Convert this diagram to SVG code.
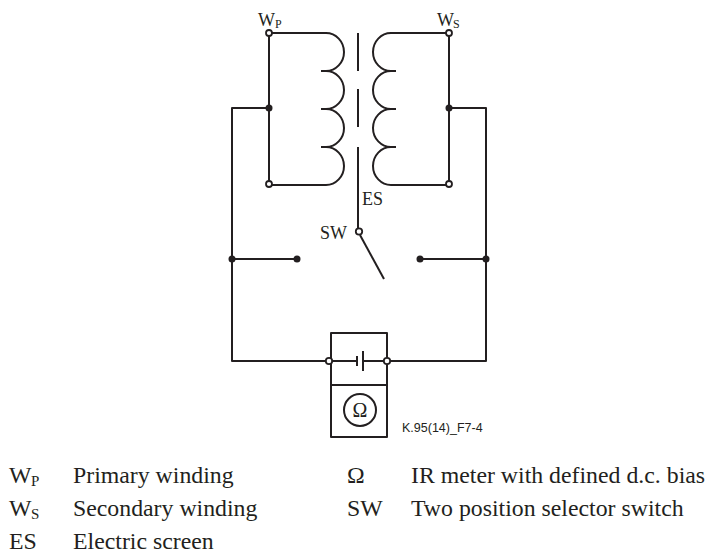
<svg xmlns="http://www.w3.org/2000/svg" width="710" height="551" viewBox="0 0 710 551">
<style>
.w{fill:none;stroke:#231f20;stroke-width:2;stroke-linejoin:round}
.t{font-family:"Liberation Serif","Times New Roman",serif;font-size:18px;fill:#231f20}
.s{font-family:"Liberation Serif","Times New Roman",serif;font-size:12px;fill:#231f20}
.L{font-family:"Liberation Serif","Times New Roman",serif;font-size:23.8px;fill:#231f20}
.Ls{font-family:"Liberation Serif","Times New Roman",serif;font-size:15px;fill:#231f20}
.k{font-family:"Liberation Sans",Arial,sans-serif;font-size:12.5px;fill:#231f20}
.d{fill:#231f20}
.o{fill:#fff;stroke:#231f20;stroke-width:1.8}
</style>
<rect width="710" height="551" fill="#fff"/>
<g id="connectors">
<path class="w" d="M269,33 V184 M269,108 H232 V361 H327 M449,33 V184 M449,108 H486 V361 H390"/>
<path class="w" d="M232,259 H297 M420,259 H486"/>
<path class="w" d="M360,235 L384,279"/>
</g>
<g id="primary">
<path class="w" d="M272,33 H326 A18,19 0 0 1 326,71 A18,19 0 0 1 326,109 A18,19 0 0 1 326,147 A18,19 0 0 1 326,185 H272 M321,71 H326 M321,109 H326 M321,147 H326"/>
<circle class="o" cx="269" cy="33" r="3"/>
<circle class="o" cx="269" cy="184" r="3"/>
<circle class="d" cx="269" cy="108" r="3.5"/>
<text class="t" x="258" y="26">W</text><text class="s" x="275" y="28">P</text>
</g>
<g id="secondary">
<path class="w" d="M446,33 H391 A18,19 0 0 0 391,71 A18,19 0 0 0 391,109 A18,19 0 0 0 391,147 A18,19 0 0 0 391,185 H446 M391,71 H396 M391,109 H396 M391,147 H396"/>
<circle class="o" cx="449" cy="33" r="3"/>
<circle class="o" cx="449" cy="184" r="3"/>
<circle class="d" cx="449" cy="108" r="3.5"/>
<text class="t" x="437" y="26">W</text><text class="s" x="453" y="28">S</text>
</g>
<g id="screen">
<path class="w" d="M358,33 V71 M358,89 V127 M358,147 V228"/>
<text class="t" x="362" y="205">ES</text>
</g>
<g id="switch">
<circle class="o" cx="359" cy="231.5" r="3.2"/>
<text class="t" x="320" y="239">SW</text>
<circle class="d" cx="232" cy="259" r="3.5"/>
<circle class="d" cx="297" cy="259" r="3.5"/>
<circle class="d" cx="420" cy="259" r="3.5"/>
<circle class="d" cx="486" cy="259" r="3.5"/>
</g>
<g id="battery">
<rect class="w" x="331" y="333" width="56" height="52"/>
<path class="w" d="M333,361 H357 M357,356 V366 M363,351 V371 M363,361 H384"/>
<circle class="o" cx="329" cy="361" r="3.2"/>
<circle class="o" cx="387" cy="361" r="3.2"/>
</g>
<g id="meter">
<rect class="w" x="331" y="385" width="56" height="52"/>
<circle class="w" cx="360" cy="410" r="16"/>
<text class="t" x="360" y="417" text-anchor="middle" style="font-size:20px">Ω</text>
</g>
<text class="k" x="402" y="432">K.95(14)_F7-4</text>
<g id="legend">
<text class="L" x="9" y="483">W</text><text class="Ls" x="31" y="486">P</text>
<text class="L" x="73" y="483">Primary winding</text>
<text class="L" x="9" y="516">W</text><text class="Ls" x="31" y="519">S</text>
<text class="L" x="73" y="516">Secondary winding</text>
<text class="L" x="9" y="549">ES</text>
<text class="L" x="73" y="549">Electric screen</text>
<text class="L" x="347" y="483">Ω</text>
<text class="L" x="411" y="483">IR meter with defined d.c. bias</text>
<text class="L" x="347" y="516">SW</text>
<text class="L" x="411" y="516">Two position selector switch</text>
</g>
</svg>
